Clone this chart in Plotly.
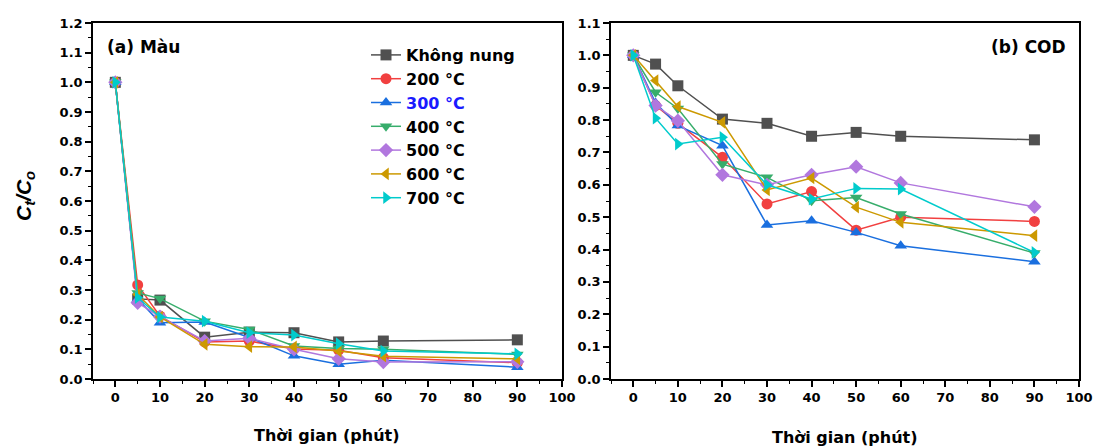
import plotly.graph_objects as go

time = [0, 5, 10, 20, 30, 40, 50, 60, 90]
series_names = ["Không nung", "200 °C", "<span style='color:#1a1aff'>300 °C</span>", "400 °C", "500 °C", "600 °C", "700 °C"]

color_a = {
    "Không nung": [1.0, 0.27, 0.266, 0.141, 0.158, 0.156, 0.125, 0.128, 0.132],
    "200 °C": [1.0, 0.317, 0.212, 0.125, 0.128, 0.101, 0.097, 0.072, 0.055],
    "300 °C": [1.0, 0.27, 0.19, 0.192, 0.14, 0.078, 0.05, 0.063, 0.04],
    "400 °C": [1.0, 0.29, 0.271, 0.195, 0.167, 0.111, 0.103, 0.10, 0.083],
    "500 °C": [1.0, 0.257, 0.21, 0.128, 0.137, 0.10, 0.068, 0.057, 0.058],
    "600 °C": [1.0, 0.285, 0.209, 0.117, 0.109, 0.108, 0.094, 0.077, 0.068],
    "700 °C": [1.0, 0.274, 0.209, 0.195, 0.156, 0.148, 0.119, 0.094, 0.085],
}
cod_b = {
    "Không nung": [1.0, 0.973, 0.906, 0.803, 0.79, 0.75, 0.762, 0.75, 0.739],
    "200 °C": [1.0, 0.845, 0.79, 0.685, 0.541, 0.579, 0.46, 0.50, 0.487],
    "300 °C": [1.0, 0.853, 0.783, 0.721, 0.476, 0.489, 0.453, 0.412, 0.362],
    "400 °C": [1.0, 0.886, 0.836, 0.664, 0.623, 0.551, 0.561, 0.51, 0.389],
    "500 °C": [1.0, 0.845, 0.798, 0.631, 0.60, 0.631, 0.656, 0.606, 0.532],
    "600 °C": [1.0, 0.922, 0.842, 0.793, 0.584, 0.621, 0.531, 0.484, 0.443],
    "700 °C": [1.0, 0.806, 0.726, 0.747, 0.60, 0.556, 0.589, 0.587, 0.391],
}
keys = ["Không nung", "200 °C", "300 °C", "400 °C", "500 °C", "600 °C", "700 °C"]
colors = ["#505050", "#F14040", "#1A6FDF", "#37AD6B", "#B177DE", "#CC9900", "#00CBCC"]
symbols = ["square", "circle", "triangle-up", "triangle-down", "diamond", "triangle-left", "triangle-right"]

fig = go.Figure()
for i, k in enumerate(keys):
    fig.add_trace(go.Scatter(x=time, y=color_a[k], name=series_names[i], mode="lines+markers",
                             line=dict(color=colors[i], width=1.5),
                             marker=dict(symbol=symbols[i], size=11, color=colors[i]),
                             xaxis="x", yaxis="y", showlegend=True))
for i, k in enumerate(keys):
    fig.add_trace(go.Scatter(x=time, y=cod_b[k], name=series_names[i], mode="lines+markers",
                             line=dict(color=colors[i], width=1.5),
                             marker=dict(symbol=symbols[i], size=11, color=colors[i]),
                             xaxis="x2", yaxis="y2", showlegend=False))

tickfont = dict(family="DejaVu Sans", size=13, color="black", weight="bold")
ax_common = dict(showline=True, linecolor="black", linewidth=1.5, mirror=True,
                 ticks="outside", ticklen=6, tickwidth=1.5, tickcolor="black",
                 showgrid=False, zeroline=False, tickfont=tickfont, automargin=False)
minor_common = dict(ticks="outside", ticklen=3, tickcolor="black", tickwidth=1.2)

ydom = [(446 - 379) / 446, (446 - 23) / 446]
fig.update_layout(
    width=1097, height=446,
    margin=dict(l=0, r=0, t=0, b=0, pad=0),
    plot_bgcolor="white", paper_bgcolor="white",
    xaxis=dict(domain=[93 / 1097, 562 / 1097], range=[-5, 100], tickmode="linear", tick0=0, dtick=10,
               minor=dict(dtick=5, tick0=0, **minor_common), anchor="y", **ax_common),
    yaxis=dict(domain=ydom, range=[0, 1.2], tickmode="linear", tick0=0, dtick=0.1, tickformat=".1f",
               minor=dict(dtick=0.05, tick0=0, **minor_common), anchor="x", **ax_common),
    xaxis2=dict(domain=[611 / 1097, 1079 / 1097], range=[-5, 100], tickmode="linear", tick0=0, dtick=10,
                minor=dict(dtick=5, tick0=0, **minor_common), anchor="y2", **ax_common),
    yaxis2=dict(domain=ydom, range=[0, 1.1], tickmode="linear", tick0=0, dtick=0.1, tickformat=".1f",
                minor=dict(dtick=0.05, tick0=0, **minor_common), anchor="x2", **ax_common),
    legend=dict(x=366 / 1097, y=1 - 38 / 446, xanchor="left", yanchor="top",
                bgcolor="rgba(0,0,0,0)", borderwidth=0,
                font=dict(family="DejaVu Sans", size=16, color="black", weight="bold"),
                tracegroupgap=0),
    annotations=[
        dict(text="<b>(a) Màu</b>", x=105 / 1097, y=1 - 47 / 446, xref="paper", yref="paper",
             xanchor="left", yanchor="middle", showarrow=False,
             font=dict(family="DejaVu Sans", size=17, color="black")),
        dict(text="<b>(b) COD</b>", x=1068 / 1097, y=1 - 47 / 446, xref="paper", yref="paper",
             xanchor="right", yanchor="middle", showarrow=False,
             font=dict(family="DejaVu Sans", size=17, color="black")),
        dict(text="<b>Thời gian (phút)</b>", x=327 / 1097, y=1 - 435 / 446, xref="paper", yref="paper",
             xanchor="center", yanchor="middle", showarrow=False,
             font=dict(family="DejaVu Sans", size=16, color="black")),
        dict(text="<b>Thời gian (phút)</b>", x=845 / 1097, y=1 - 437 / 446, xref="paper", yref="paper",
             xanchor="center", yanchor="middle", showarrow=False,
             font=dict(family="DejaVu Sans", size=16, color="black")),
        dict(text="<b><i>C<sub>t</sub>/C<sub>o</sub></i></b>", x=25 / 1097, y=1 - 196 / 446,
             xref="paper", yref="paper", xanchor="center", yanchor="middle", showarrow=False,
             textangle=-90, font=dict(family="Liberation Sans", size=21, color="black")),
    ],
)

fig.write_html("out.html")
